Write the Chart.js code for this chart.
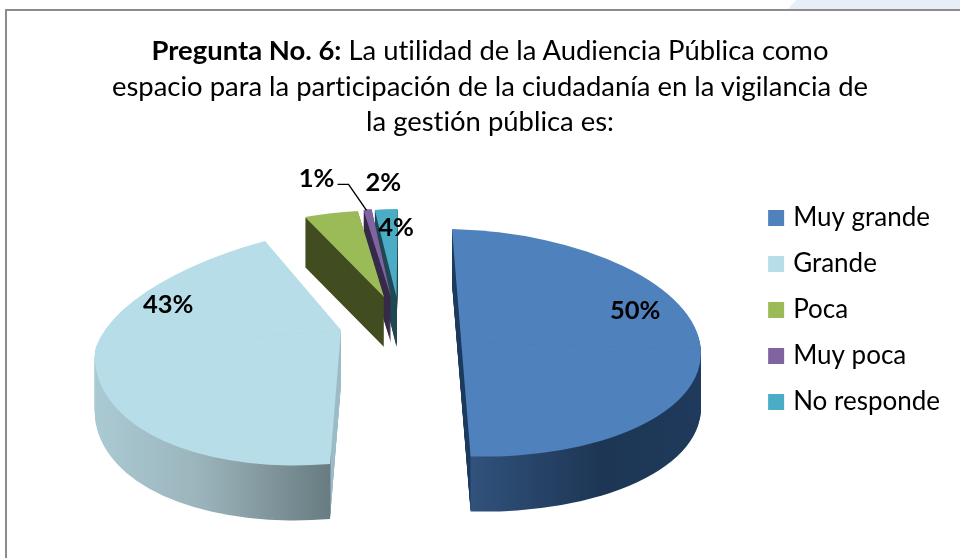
<!DOCTYPE html>
<html><head><meta charset="utf-8">
<script src="https://cdn.jsdelivr.net/npm/chart.js@4"></script>
<style>
html,body{margin:0;padding:0;background:#fff;width:960px;height:558px;overflow:hidden}
#band{position:absolute;left:788px;top:0;width:172px;height:9px;background:#e7eef7;clip-path:polygon(8px 0,100% 0,100% 100%,0 100%)}
#frame{position:absolute;left:5px;top:9px;width:1000px;height:600px;border-left:2px solid #8c8c8c;border-top:2px solid #8c8c8c}
#wrap{position:absolute;left:0;top:0;width:960px;height:558px}
#title{position:absolute;left:0;top:32px;width:980px;text-align:center;font:27.45px/35.5px Lato,sans-serif;font-variant-ligatures:none;color:#000}
</style></head><body>
<div id="band"></div><div id="frame"></div>
<div id="wrap"><canvas id="c" width="960" height="558"></canvas></div>
<div id="title"><b>Pregunta No. 6:</b> La utilidad de la Audiencia Pública como<br>espacio para la participación de la ciudadanía en la vigilancia de<br>la gestión pública es:</div>
<script>
const categories = ['Muy grande','Grande','Poca','Muy poca','No responde'];
const values = [50,43,4,1,2];
const topColors = ['#4f81bd','#b7dde8','#9bbb59','#8064a2','#4bacc6'];

// Projection of each exploded slice of the flat pie onto the tilted 3D view
const views = [
  {apex:[461.3,342.7], ab:[239.5,6],  up:[9.3,113.7], low:[9.3,113.7], depth:55},
  {apex:[341,330],     ab:[246,-20],  up:[-31.8,107.7], low:[-11,134], depth:55},
  {apex:[384,297],     ab:[217,2.9],  up:[-14.8,87],  low:[-14.8,87],  depth:50},
  {apex:[391,297],     ab:[129.7,-1.7],up:[3.2,89],   low:[3.2,89],    depth:46},
  {apex:[396.5,297],   ab:[184,-2.4], up:[-1.3,88],   low:[-1.3,88],   depth:50}
];
const wallStops = [
  [[452,'#1c3a5e'],[470,'#1c3a5e'],[471,'#31527c'],[600,'#1d3654'],[702,'#1f3a5c']],
  [[95,'#aacad3'],[200,'#9bb4bb'],[330,'#687c81'],[331,'#9bbcc7'],[345,'#9bbcc7']],
  [[300,'#414c21'],[390,'#414c21']],
  [[360,'#352a47'],[395,'#352a47']],
  [[370,'#1f4853'],[400,'#1f4853']]
];
const drawOrder = [0,1,4,3,2];
const labelRadius = [0.726,0.7,1,1,1];
const labelNudge = [[0,-36],[-3,-59],[65,14],[-51,-31],[-3,-27]];

function applyPiece(ctx, el, v, upper){
  const R = el.outerRadius, cd = upper ? v.up : v.low;
  const a=v.ab[0]/R, b=v.ab[1]/R, c=cd[0]/R, d=cd[1]/R;
  ctx.transform(a,b,c,d, v.apex[0]-a*el.x-c*el.y, v.apex[1]-b*el.x-d*el.y);
  ctx.beginPath();
  if(upper) ctx.rect(el.x-2*R, el.y-2*R, 4*R, 2*R+0.6);
  else ctx.rect(el.x-2*R, el.y-0.6, 4*R, 2*R);
  ctx.clip();
}
function paint(ctx, el, v, dy){
  for(const upper of [true,false]){
    ctx.save();
    ctx.translate(0,dy);
    applyPiece(ctx, el, v, upper);
    el.draw(ctx);
    ctx.restore();
  }
}
function projectMid(el, v, r){
  const mid=(el.startAngle+el.endAngle)/2;
  const ux=Math.cos(mid)*r, uy=Math.sin(mid)*r, cd= uy<0 ? v.up : v.low;
  return [v.apex[0]+v.ab[0]*ux+cd[0]*uy, v.apex[1]+v.ab[1]*ux+cd[1]*uy];
}
const pie3d = {
  id:'pie3d',
  beforeDatasetsDraw(chart){
    const ctx=chart.ctx, meta=chart.getDatasetMeta(0);
    for(const i of drawOrder){
      const el=meta.data[i], v=views[i];
      const off=document.createElement('canvas'); off.width=960; off.height=558;
      const o=off.getContext('2d');
      for(let k=v.depth;k>=1;k--) paint(o,el,v,k);
      o.globalCompositeOperation='source-in';
      const st=wallStops[i], x0=st[0][0], x1=st[st.length-1][0];
      const g=o.createLinearGradient(x0,0,x1,0);
      st.forEach(s=>g.addColorStop((s[0]-x0)/(x1-x0),s[1]));
      o.fillStyle=g; o.fillRect(0,0,960,558);
      ctx.drawImage(off,0,0);
      paint(ctx,el,v,0);
    }
    return false;
  },
  afterDraw(chart){
    const ctx=chart.ctx, meta=chart.getDatasetMeta(0);
    // leader line for the smallest slice
    const rim=projectMid(meta.data[3],views[3],1);
    ctx.save();
    ctx.strokeStyle='#000'; ctx.lineWidth=1.4;
    ctx.beginPath();
    ctx.moveTo(rim[0]-30,rim[1]-25); ctx.lineTo(rim[0]-19,rim[1]-25); ctx.lineTo(rim[0]-1,rim[1]+1);
    ctx.stroke();
    ctx.font='bold 25.5px Lato, sans-serif'; ctx.fillStyle='#000';
    ctx.textAlign='center'; ctx.textBaseline='middle';
    values.forEach((val,i)=>{
      const p=projectMid(meta.data[i],views[i],labelRadius[i]);
      ctx.fillText(val+'%',p[0]+labelNudge[i][0],p[1]+labelNudge[i][1]);
    });
    ctx.restore();
  }
};
new Chart(document.getElementById('c'),{
  type:'pie',
  data:{labels:categories,datasets:[{data:values,backgroundColor:topColors,borderWidth:0}]},
  plugins:[pie3d],
  options:{
    responsive:false,animation:false,
    layout:{padding:{top:62,right:10}},
    plugins:{
      tooltip:{enabled:false},
      title:{display:false},
      legend:{position:'right',align:'center',
        labels:{font:{family:'Lato, sans-serif',size:26},color:'#000',boxWidth:8,boxHeight:8,padding:20,
          generateLabels(chart){
            return categories.map((t,i)=>({text:t,fillStyle:topColors[i],strokeStyle:topColors[i],lineWidth:8,index:i,hidden:false}));
          }}
      }
    }
  }
});
</script>
</body></html>
